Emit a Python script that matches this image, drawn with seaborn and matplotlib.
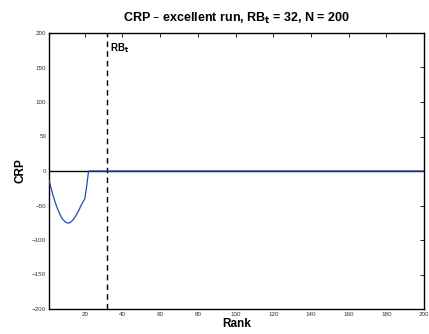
import numpy as np
import pandas as pd
import matplotlib
matplotlib.use("Agg")
import matplotlib.pyplot as plt
import seaborn as sns

# Data
ranks = list(range(1, 201))
crp_head = [-13, -24, -34, -43, -51, -58, -64, -69, -72, -74.5, -75.5, -75,
            -73, -70, -66, -61, -56, -50, -45, -40, -22, 0]
crp_tail = [0] * (200 - len(crp_head))
crp = crp_head + crp_tail
rb_t = 32
x_ticks = [20, 40, 60, 80, 100, 120, 140, 160, 180, 200]
y_ticks = [-200, -150, -100, -50, 0, 50, 100, 150, 200]

df = pd.DataFrame({"Rank": ranks, "CRP": crp})

sns.set_style("white")
plt.rcParams["font.family"] = ["Liberation Sans", "DejaVu Sans"]
plt.rcParams["text.color"] = "black"
plt.rcParams["axes.labelcolor"] = "black"

fig = plt.figure(figsize=(4.29, 3.34), dpi=100)
ax = fig.add_axes([49/429, 25/334, (424-49)/429, (309-33)/334])

ax.axhline(0, color="black", lw=1.0, zorder=1)
sns.lineplot(data=df, x="Rank", y="CRP", ax=ax, color="#2a48b0", lw=0.9, zorder=3)
ax.axvline(rb_t, color="black", ls=(0, (4, 3)), lw=1.0, zorder=2)
ax.text(rb_t + 1.5, 188, r"RB$_\mathbf{t}$", fontsize=7, fontweight="bold",
        va="top", ha="left", color="black")

ax.set_xlim(1, 200)
ax.set_ylim(-200, 200)
ax.set_xticks(x_ticks)
ax.set_yticks(y_ticks)
ax.tick_params(axis="both", direction="in", length=3, width=0.6, labelsize=4.5,
               top=True, right=True, colors="black", labelcolor="#333333", pad=2)
for s in ax.spines.values():
    s.set_visible(True)
    s.set_color("black")
    s.set_linewidth(1.0)

ax.set_xlabel("Rank", fontsize=8.5, fontweight="bold", labelpad=1, color="black")
ax.set_ylabel("CRP", fontsize=8.5, fontweight="bold", labelpad=4, color="black")
ax.set_title(r"CRP – excellent run, RB$_\mathbf{t}$ = 32, N = 200", fontsize=9,
             fontweight="bold", pad=8, color="black")

fig.savefig("out.png", dpi=100)
